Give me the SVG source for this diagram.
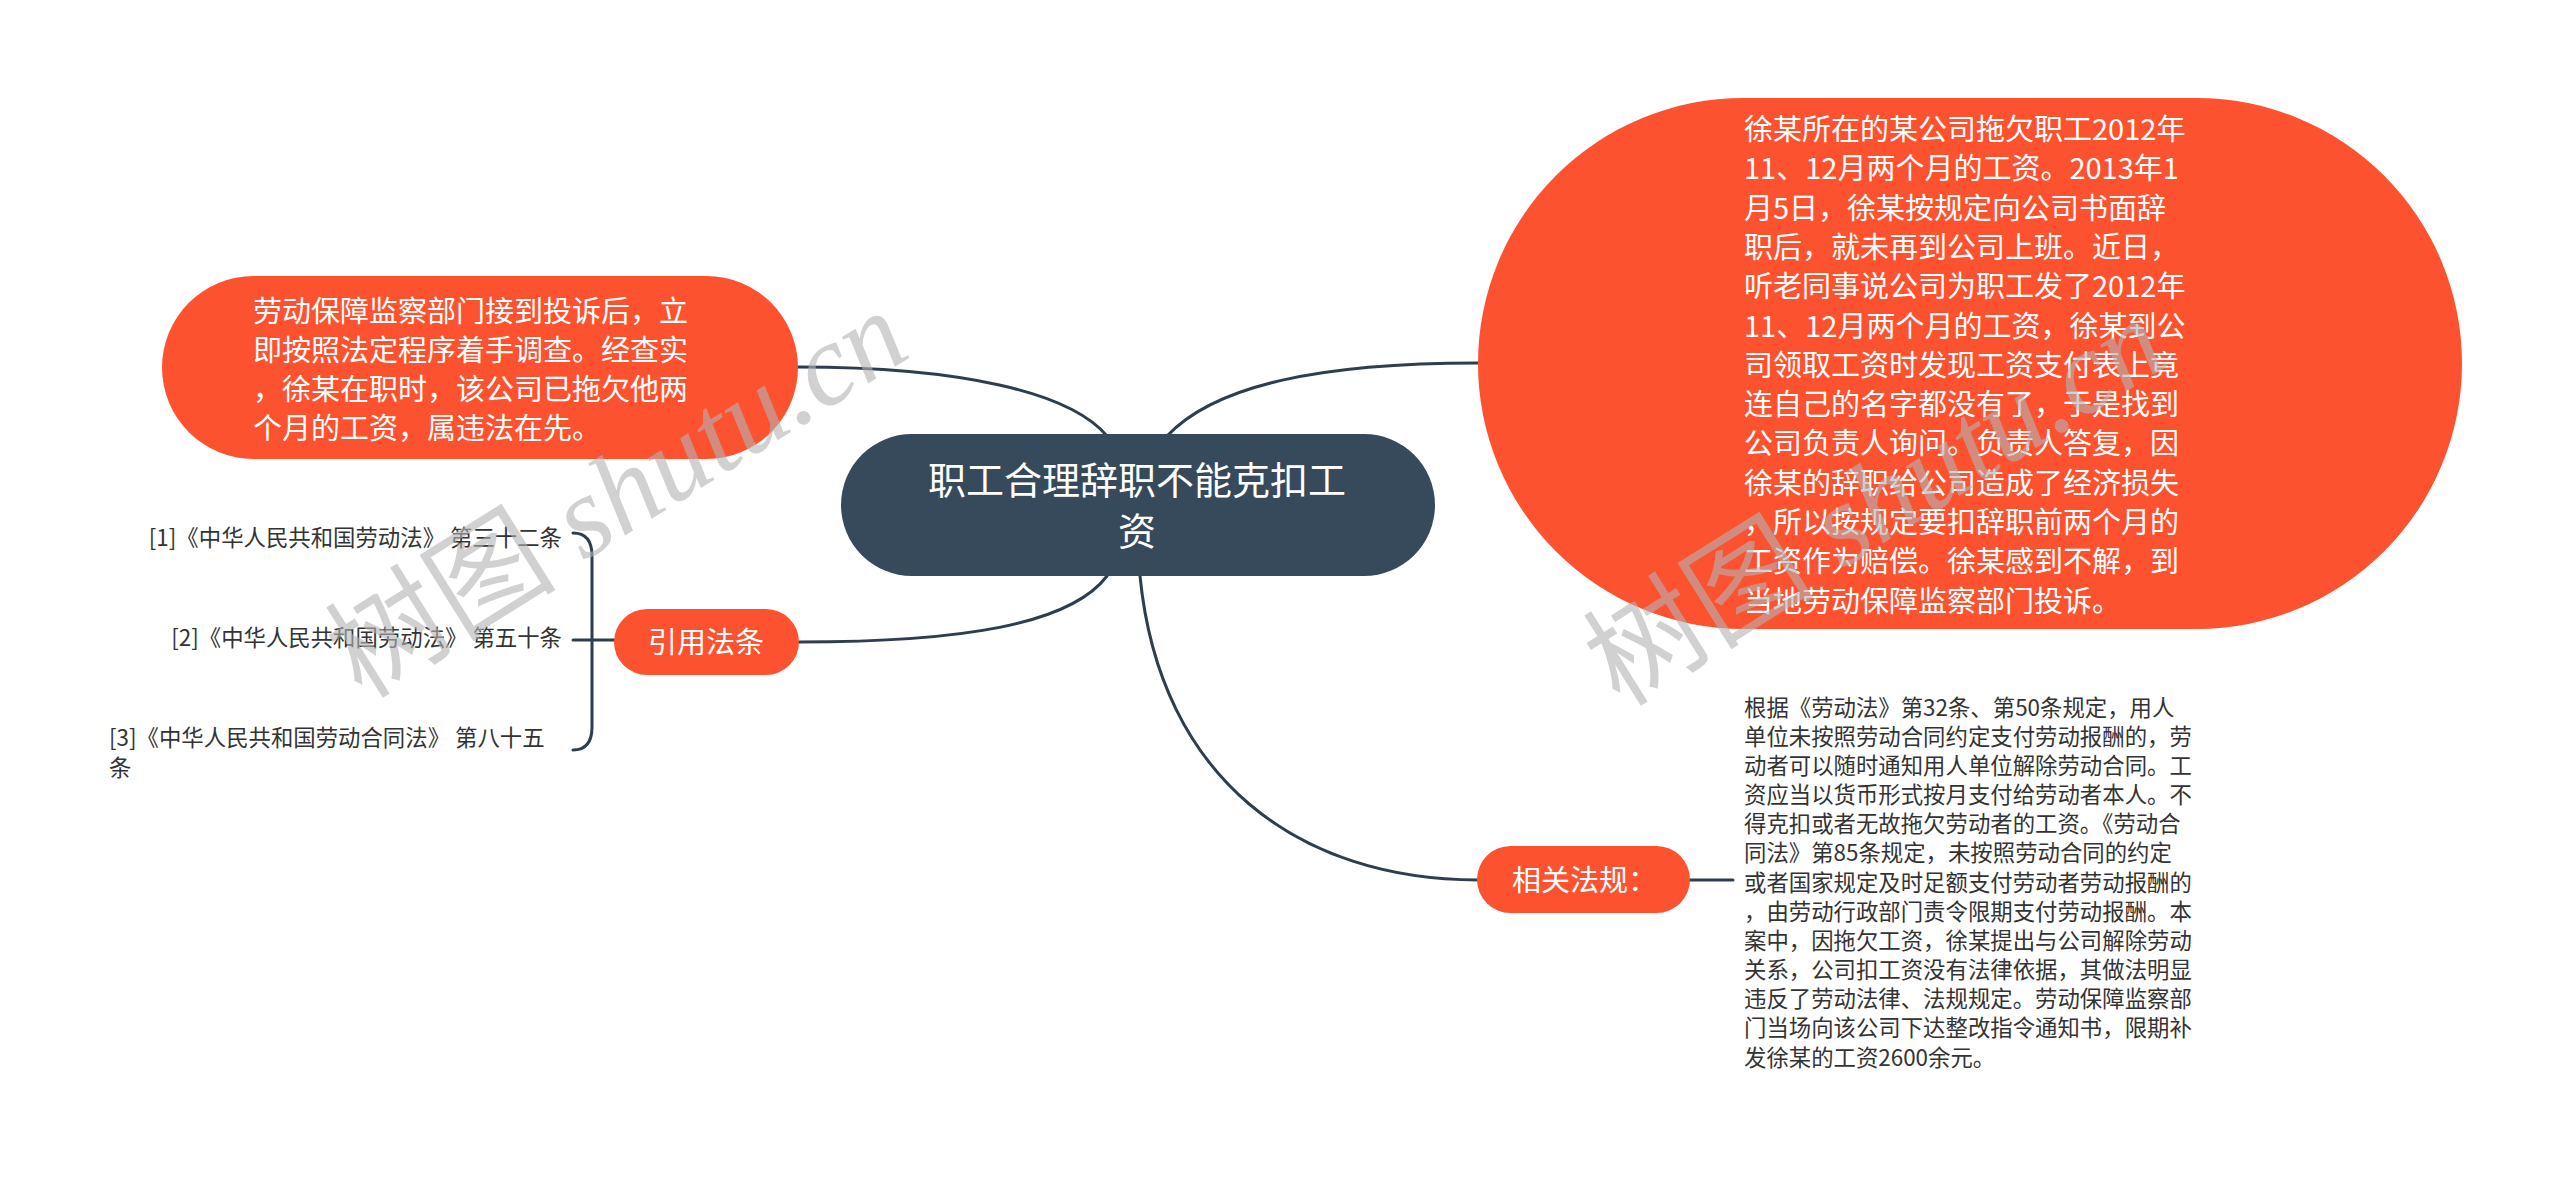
<svg xmlns="http://www.w3.org/2000/svg" width="2560" height="1177" viewBox="0 0 2560 1177">
<style>
.bg{fill:#ffffff}
.orange{fill:#fd5230}
.root{fill:#374a5b}
.link{fill:none;stroke:#2e3e4c;stroke-width:3;stroke-linecap:round}
.wt{fill:#ffffff;font-family:"Noto Sans CJK SC","Noto Sans",sans-serif}
.dk{fill:#333333;font-family:"Noto Sans CJK SC","Noto Sans",sans-serif}
.wm{fill:#b4b4b4;opacity:0.6}
</style>
<rect class="bg" x="0" y="0" width="2560" height="1177"/>
<g id="connectors">
<path class="link" d="M798,367 C960,367 1070,392 1107,436"/>
<path class="link" d="M1167,436 C1215,385 1320,363 1478,363"/>
<path class="link" d="M1107,576 C1070,625 960,642 799,642"/>
<path class="link" d="M1140,576 C1160,780 1300,880 1478,880"/>
<path class="link" d="M1690,880 H1733"/>
<path class="link" d="M573,533 Q592,533 592,556 V727 Q592,750 573,750"/>
<path class="link" d="M573,640 H614"/>
</g>
<g id="root">
<rect class="root" x="841" y="434" width="594" height="142" rx="71"/>
<text class="wt" font-size="38" text-anchor="middle"><tspan x="1137" y="494">职工合理辞职不能克扣工</tspan><tspan x="1137" y="545">资</tspan></text>
</g>
<g id="node-investigation">
<rect class="orange" x="162" y="276" width="636" height="183" rx="91.5"/>
<text class="wt" font-size="29"><tspan x="253" y="322">劳动保障监察部门接到投诉后，立</tspan><tspan x="253" y="361">即按照法定程序着手调查。经查实</tspan><tspan x="253" y="400">，徐某在职时，该公司已拖欠他两</tspan><tspan x="253" y="439">个月的工资，属违法在先。</tspan></text>
</g>
<g id="node-case">
<rect class="orange" x="1478" y="98" width="984" height="531" rx="265.5"/>
<text class="wt" font-size="29"><tspan x="1744" y="140">徐某所在的某公司拖欠职工2012年</tspan><tspan x="1744" y="179.3">11、12月两个月的工资。2013年1</tspan><tspan x="1744" y="218.6">月5日，徐某按规定向公司书面辞</tspan><tspan x="1744" y="257.9">职后，就未再到公司上班。近日，</tspan><tspan x="1744" y="297.2">听老同事说公司为职工发了2012年</tspan><tspan x="1744" y="336.5">11、12月两个月的工资，徐某到公</tspan><tspan x="1744" y="375.8">司领取工资时发现工资支付表上竟</tspan><tspan x="1744" y="415.1">连自己的名字都没有了，于是找到</tspan><tspan x="1744" y="454.4">公司负责人询问。负责人答复，因</tspan><tspan x="1744" y="493.7">徐某的辞职给公司造成了经济损失</tspan><tspan x="1744" y="533">，所以按规定要扣辞职前两个月的</tspan><tspan x="1744" y="572.3">工资作为赔偿。徐某感到不解，到</tspan><tspan x="1744" y="611.6">当地劳动保障监察部门投诉。</tspan></text>
</g>
<g id="node-cite">
<rect class="orange" x="614" y="609" width="185" height="66" rx="33"/>
<text class="wt" font-size="29" x="648" y="653">引用法条</text>
</g>
<g id="node-cite-1">
<text class="dk" font-size="22.4" x="562" y="545.5" text-anchor="end">[1]《中华人民共和国劳动法》 第三十二条</text>
</g>
<g id="node-cite-2">
<text class="dk" font-size="22.4" x="562" y="645.5" text-anchor="end">[2]《中华人民共和国劳动法》 第五十条</text>
</g>
<g id="node-cite-3">
<text class="dk" font-size="22.4"><tspan x="109" y="745.5">[3]《中华人民共和国劳动合同法》 第八十五</tspan><tspan x="109" y="775.5">条</tspan></text>
</g>
<g id="node-law">
<rect class="orange" x="1477" y="846" width="213" height="67" rx="33.5"/>
<text class="wt" font-size="29" x="1512" y="891">相关法规：</text>
</g>
<g id="node-law-text">
<text class="dk" font-size="22.4"><tspan x="1744" y="715.5">根据《劳动法》第32条、第50条规定，用人</tspan><tspan x="1744" y="744.7">单位未按照劳动合同约定支付劳动报酬的，劳</tspan><tspan x="1744" y="773.8">动者可以随时通知用人单位解除劳动合同。工</tspan><tspan x="1744" y="803">资应当以货币形式按月支付给劳动者本人。不</tspan><tspan x="1744" y="832.2">得克扣或者无故拖欠劳动者的工资。《劳动合</tspan><tspan x="1744" y="861.4">同法》第85条规定，未按照劳动合同的约定</tspan><tspan x="1744" y="890.5">或者国家规定及时足额支付劳动者劳动报酬的</tspan><tspan x="1744" y="919.7">，由劳动行政部门责令限期支付劳动报酬。本</tspan><tspan x="1744" y="948.9">案中，因拖欠工资，徐某提出与公司解除劳动</tspan><tspan x="1744" y="978">关系，公司扣工资没有法律依据，其做法明显</tspan><tspan x="1744" y="1007.2">违反了劳动法律、法规规定。劳动保障监察部</tspan><tspan x="1744" y="1036.4">门当场向该公司下达整改指令通知书，限期补</tspan><tspan x="1744" y="1065.5">发徐某的工资2600余元。</tspan></text>
</g>
<g id="watermarks">
<text class="wm" font-size="116" transform="translate(362,700) rotate(-32)"><tspan font-family="Noto Sans CJK SC,sans-serif">树图</tspan><tspan font-family="Liberation Serif,serif" font-style="italic"> shutu.cn</tspan></text>
<text class="wm" font-size="116" transform="translate(1620,708) rotate(-32)"><tspan font-family="Noto Sans CJK SC,sans-serif">树图</tspan><tspan font-family="Liberation Serif,serif" font-style="italic"> shutu.cn</tspan></text>
</g>
</svg>
